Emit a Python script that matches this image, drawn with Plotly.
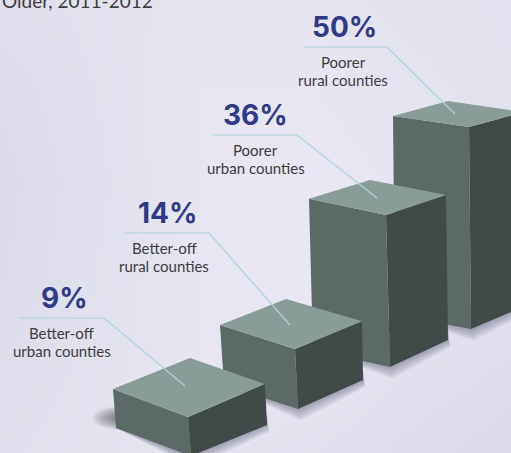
import numpy as np
import plotly.graph_objects as go

# ---- chart data ----
categories = [("Better-off", "urban counties"), ("Better-off", "rural counties"),
              ("Poorer", "urban counties"), ("Poorer", "rural counties")]
values = [9, 14, 36, 50]
title_text = "Older, 2011-2012"

# ---- layout of the pseudo-3D scene (pixels in the 511x453 canvas) ----
W, H = 511, 453
PX_PER_PCT = [4.33, 4.29, 4.22, 4.04]
GROUND = [  # left, front, right, back corner of each footprint
    [(116, 428), (191, 456), (267, 425), (192, 397)],
    [(224, 385), (298, 409), (363, 380), (287, 359)],
    [(313, 350), (390, 367), (448, 340), (372, 325)],
    [(395, 315), (471, 329), (525, 306), (450, 296)],
]
CORNER_SCALE = [[1, 1, 1.05, 1], [1, 1, .98, 1], [.995, 1, .955, .955], [.985, 1, .96, .965]]
LEAN = [[-3, -3, -2, -2], [-4, -3, -1, -1], [-4, -4, -2, -2], [-2, -2, -1, -2]]
LEADER_X = [(20, 104), (125, 209), (212, 297), (303, 387)]
LEADER_Y = [318, 233, 135, 47]
LEADER_END = [(185, 386), (290, 325), (377, 198), (455, 114)]
LABEL_X = [61.5, 164, 255.5, 343]
NUMBER_X = [64.5, 167, 255, 344.5]

TOP_COL, LEFT_COL, RIGHT_COL = "#8A9C98", "#5C6A67", "#404B49"
NAVY, TEXT_COL, LEADER_COL = "#2E3A87", "#3C3C3E", "#A9D6D8"
SANS = "Lato"

BG_SHADE = [
    [.45, .60, .70, .70, .62, .58],
    [.25, .55, .85, .85, .70, .60],
    [.15, .50, .85, .95, .80, .65],
    [.20, .55, .85, .95, .80, .55],
    [.35, .60, .85, .85, .55, .35],
    [.50, .65, .70, .55, .30, .10],
]

fig = go.Figure()
fig.add_trace(go.Heatmap(
    z=BG_SHADE, x=np.linspace(0, W, 6), y=np.linspace(0, H, 6),
    zmin=0, zmax=1, zsmooth="best", showscale=False, hoverinfo="skip",
    colorscale=[[0, "#D8D8E7"], [1, "#EAE8F4"]]))


def poly(pts, color, opacity=1.0):
    xs = [p[0] for p in pts] + [pts[0][0]]
    ys = [p[1] for p in pts] + [pts[0][1]]
    fig.add_trace(go.Scatter(x=xs, y=ys, mode="lines", fill="toself", fillcolor=color,
                             line=dict(width=0, color=color), opacity=opacity,
                             hoverinfo="skip", showlegend=False))


# soft contact shadows
for i in range(4):
    L, F, R, B = GROUND[i]
    for d in range(1, 13):
        poly([(L[0], L[1]), (F[0] + d * .2, F[1] + d), (R[0] + d * .2, R[1] + d * .6), (R[0], R[1] - 10)],
             "#3A3650", .035)
t = np.linspace(0, 2 * np.pi, 40)
for s in np.linspace(.1, 1, 16):
    poly(list(zip(122 + 30 * s * np.cos(t), 418 + 12 * s * np.sin(t))), "#333333", .05)

# bars, from back to front
for i in range(3, -1, -1):
    G = GROUND[i]
    T = [(G[c][0] + LEAN[i][c], G[c][1] - values[i] * PX_PER_PCT[i] * CORNER_SCALE[i][c])
         for c in range(4)]
    poly([T[0], T[1], G[1], G[0]], LEFT_COL)
    poly([T[1], T[2], G[2], G[1]], RIGHT_COL)
    poly(T, TOP_COL)

# leaders and labels
for i in range(4):
    fig.add_trace(go.Scatter(
        x=[LEADER_X[i][0], LEADER_X[i][1], LEADER_END[i][0]],
        y=[LEADER_Y[i], LEADER_Y[i], LEADER_END[i][1]],
        mode="lines", line=dict(color=LEADER_COL, width=1.2),
        hoverinfo="skip", showlegend=False))
    fig.add_annotation(x=NUMBER_X[i], y=LEADER_Y[i] - 1, text=f"<b>{values[i]}%</b>",
                       showarrow=False, yanchor="bottom", xanchor="center",
                       font=dict(family="Inter", size=28, color=NAVY))
    for j, line in enumerate(categories[i]):
        fig.add_annotation(x=LABEL_X[i], y=LEADER_Y[i] + 15 + 18 * j, text=line,
                           showarrow=False, yanchor="middle", xanchor="center",
                           font=dict(family=SANS, size=15, color=TEXT_COL))

fig.add_annotation(x=0, y=0.5, text=title_text, showarrow=False, xanchor="left", yanchor="middle",
                   font=dict(family=SANS, size=19, color=TEXT_COL))

fig.update_layout(
    width=W, height=H, margin=dict(l=0, r=0, t=0, b=0), autosize=False,
    paper_bgcolor="#E8E6F2", plot_bgcolor="#E8E6F2", showlegend=False,
    xaxis=dict(range=[0, W], visible=False, fixedrange=True),
    yaxis=dict(range=[H, 0], visible=False, fixedrange=True))
fig.write_html("out.html", config={"displayModeBar": False},
               post_script="document.body.style.margin='0';document.body.style.overflow='hidden';")
